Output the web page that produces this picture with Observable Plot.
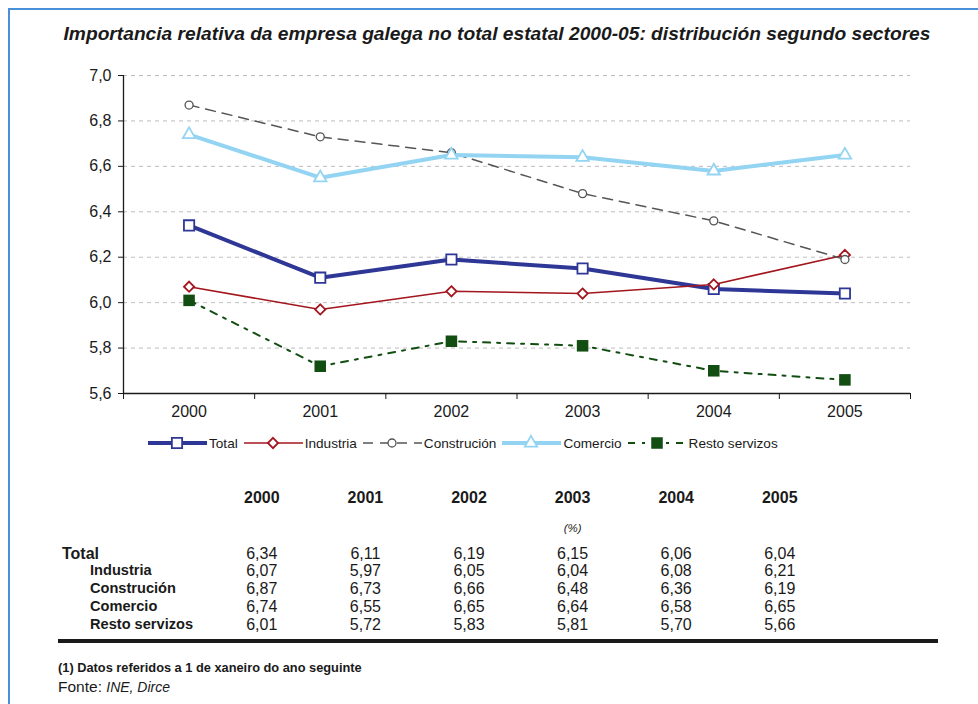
<!DOCTYPE html>
<html><head><meta charset="utf-8">
<script src="https://cdn.jsdelivr.net/npm/d3@7"></script>
<script src="https://cdn.jsdelivr.net/npm/@observablehq/plot@0.6"></script>
<style>
html,body{margin:0;padding:0;background:#fff;}
body{width:978px;height:704px;position:relative;overflow:hidden;font-family:"Liberation Sans",Arial,sans-serif;color:#1a1a1a;}
#frame{position:absolute;left:8px;top:8px;width:1000px;height:720px;border-left:2px solid #4a90d9;border-top:2px solid #4a90d9;}
#title{position:absolute;left:0;width:994px;top:23px;text-align:center;font-weight:bold;font-style:italic;font-size:19.2px;}
#chart{position:absolute;left:0;top:60px;}
#legend{position:absolute;left:147px;top:434px;display:flex;align-items:center;font-size:13.6px;height:18px;}
#legend .item{display:flex;align-items:center;margin-right:5px;}
#legend svg{display:block;margin-right:1px;}
#table{position:absolute;left:58px;top:489px;display:grid;grid-template-columns:152px repeat(6,103.6px);font-size:16px;}
#table div{height:17.8px;line-height:17.8px;}
.hd{font-weight:bold;text-align:center;}
.num{text-align:center;}
.lab{font-weight:bold;}
#rule{position:absolute;left:58px;top:639px;width:880px;height:4px;background:#1a1a1a;}
#note{position:absolute;left:58px;top:660px;font-size:12.8px;font-weight:bold;}
#fonte{position:absolute;left:58px;top:678px;font-size:15.5px;}
#fonte i{font-size:14px;}
</style></head>
<body>
<div id="frame"></div>
<div id="title">Importancia relativa da empresa galega no total estatal 2000-05: distribución segundo sectores</div>
<div id="chart"></div>
<div id="legend"></div>
<div id="table"></div>
<div id="rule"></div>
<div id="note">(1) Datos referidos a 1 de xaneiro do ano seguinte</div>
<div id="fonte">Fonte: <i>INE, Dirce</i></div>
<script>
const years = [2000, 2001, 2002, 2003, 2004, 2005];
const seriesNames = ["Total", "Industria", "Construción", "Comercio", "Resto servizos"];
const total = [6.34, 6.11, 6.19, 6.15, 6.06, 6.04];
const industria = [6.07, 5.97, 6.05, 6.04, 6.08, 6.21];
const construcion = [6.87, 6.73, 6.66, 6.48, 6.36, 6.19];
const comercio = [6.74, 6.55, 6.65, 6.64, 6.58, 6.65];
const resto = [6.01, 5.72, 5.83, 5.81, 5.70, 5.66];
const yTicks = [5.6, 5.8, 6.0, 6.2, 6.4, 6.6, 6.8, 7.0];

const values = [total, industria, construcion, comercio, resto];
const styles = [
  {stroke: "#2e3796", width: 4, dash: null, symbol: "square", r: 5.8, fill: "white", sw: 1.8},
  {stroke: "#a3161d", width: 1.6, dash: null, symbol: "diamond2", r: 4.6, fill: "white", sw: 1.8},
  {stroke: "#555555", width: 1.5, dash: "10,7", symbol: "circle", r: 4, fill: "white", sw: 1.3},
  {stroke: "#93d4f3", width: 4, dash: null, symbol: "triangle", r: 4.6, fill: "white", sw: 1.8},
  {stroke: "#124d12", width: 2, dash: "7,7,3,7", symbol: "square", r: 6.5, fill: "#124d12", sw: 0}
];
const fmt = v => v.toFixed(2).replace(".", ",");
const bounds = d3.range(years[0] - 0.5, years[years.length - 1] + 1, 1);

const rows = [];
seriesNames.forEach((name, s) => years.forEach((yr, i) => rows.push({name, s, year: yr, value: values[s][i]})));

const marks = [
  Plot.ruleY(yTicks.slice(1), {x1: bounds[0], x2: bounds[bounds.length - 1], stroke: "#bdbdbd", strokeDasharray: "4,4", strokeWidth: 1}),
  Plot.ruleX([bounds[0]], {y1: yTicks[0], y2: yTicks[yTicks.length - 1], stroke: "#1a1a1a", strokeWidth: 1.3}),
  Plot.ruleY([yTicks[0]], {x1: bounds[0], x2: bounds[bounds.length - 1], stroke: "#1a1a1a", strokeWidth: 1.3}),
  Plot.axisX({ticks: bounds, tickSize: 6, tickFormat: () => "", stroke: "#1a1a1a", label: null}),
  Plot.axisY({ticks: yTicks, tickSize: 5, tickPadding: 7, tickFormat: d => d.toFixed(1).replace(".", ","), fontSize: 16, fill: "#1a1a1a", stroke: "#1a1a1a", label: null}),
  Plot.text(years, {x: d => d, y: yTicks[0], dy: 18, text: d => String(d), fontSize: 16, fill: "#1a1a1a"})
];
styles.forEach((st, s) => {
  const data = rows.filter(r => r.s === s);
  marks.push(Plot.line(data, {x: "year", y: "value", stroke: st.stroke, strokeWidth: st.width, strokeDasharray: st.dash}));
});
styles.forEach((st, s) => {
  const data = rows.filter(r => r.s === s);
  marks.push(Plot.dot(data, {x: "year", y: "value", symbol: () => st.symbol, r: st.r, fill: st.fill, stroke: st.fill === "white" ? st.stroke : "none", strokeWidth: st.sw}));
});

const chart = Plot.plot({
  width: 960, height: 360,
  marginLeft: 123, marginRight: 50, marginTop: 15, marginBottom: 27,
  x: {domain: [bounds[0], bounds[bounds.length - 1]], axis: null},
  y: {domain: [yTicks[0], yTicks[yTicks.length - 1]], axis: null},
  symbol: {type: "identity"},
  style: {fontFamily: "Liberation Sans, Arial, sans-serif", background: "transparent"},
  marks
});
document.getElementById("chart").appendChild(chart);

// legend
const legend = d3.select("#legend");
seriesNames.forEach((name, s) => {
  const st = styles[s];
  const it = legend.append("div").attr("class", "item");
  const svg = it.append("svg").attr("width", 61).attr("height", 18);
  svg.append("line").attr("x1", 1).attr("x2", 60).attr("y1", 9).attr("y2", 9)
    .attr("stroke", st.stroke).attr("stroke-width", st.width).attr("stroke-dasharray", st.dash);
  const sym = {square: d3.symbolSquare, diamond2: d3.symbolDiamond2, circle: d3.symbolCircle, triangle: d3.symbolTriangle}[st.symbol];
  svg.append("path").attr("transform", "translate(30,9)")
    .attr("d", d3.symbol(sym, Math.PI * st.r * st.r)())
    .attr("fill", st.fill).attr("stroke", st.fill === "white" ? st.stroke : "none").attr("stroke-width", st.sw);
  it.append("span").text(name);
});

// table
const tbl = d3.select("#table");
tbl.append("div");
years.forEach(y => tbl.append("div").attr("class", "hd").text(y));
for (let k = 0; k < 7; k++) tbl.append("div").style("height", "13px");
tbl.append("div");
years.forEach((y, i) => tbl.append("div").attr("class", "num").style("font-style", "italic").style("font-size", "11.5px").text(i === 3 ? "(%)" : ""));
for (let k = 0; k < 7; k++) tbl.append("div").style("height", "7px");
seriesNames.forEach((name, s) => {
  tbl.append("div").attr("class", "lab").style("padding-left", s === 0 ? "4px" : "32px").style("font-size", s === 0 ? "16px" : "14.6px").text(name);
  values[s].forEach(v => tbl.append("div").attr("class", "num").text(fmt(v)));
});
</script>
</body></html>
